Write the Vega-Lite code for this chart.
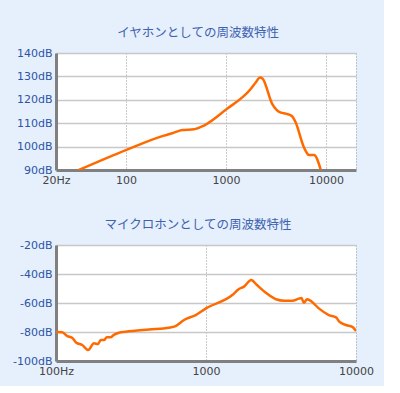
{
  "$schema": "https://vega.github.io/schema/vega-lite/v6.json",
  "background": "#e6effc",
  "padding": {"left": 12, "top": 26, "right": 10, "bottom": 10},
  "spacing": 33,
  "datasets": {
    "ear": [
      {"f": 33, "db": 89.8},
      {"f": 100, "db": 98.5},
      {"f": 240, "db": 104.7},
      {"f": 291, "db": 105.7},
      {"f": 367, "db": 107.1},
      {"f": 480, "db": 107.4},
      {"f": 604, "db": 109.0},
      {"f": 1000, "db": 115.8},
      {"f": 1770, "db": 124.6},
      {"f": 1986, "db": 127.4},
      {"f": 2193, "db": 129.5},
      {"f": 2320, "db": 129.1},
      {"f": 2912, "db": 118.2},
      {"f": 3550, "db": 114.5},
      {"f": 3983, "db": 114.1},
      {"f": 4565, "db": 113.1},
      {"f": 4988, "db": 110.3},
      {"f": 6040, "db": 99.6},
      {"f": 6777, "db": 96.4},
      {"f": 7602, "db": 96.4},
      {"f": 8870, "db": 90.2}
    ],
    "mic": [
      {"f": 100, "db": -80},
      {"f": 110, "db": -80.2},
      {"f": 119, "db": -82.8},
      {"f": 128, "db": -84},
      {"f": 136.6, "db": -87.4},
      {"f": 149.7, "db": -89},
      {"f": 164, "db": -92.4},
      {"f": 179, "db": -87.8},
      {"f": 190.5, "db": -88.3},
      {"f": 198.6, "db": -85.5},
      {"f": 209, "db": -85.5},
      {"f": 217.8, "db": -83.7},
      {"f": 231, "db": -83.7},
      {"f": 243, "db": -82},
      {"f": 263, "db": -80.5},
      {"f": 291, "db": -79.8},
      {"f": 417, "db": -78.2},
      {"f": 567, "db": -77},
      {"f": 627, "db": -75.9},
      {"f": 714, "db": -71.7},
      {"f": 854, "db": -68.3},
      {"f": 1000, "db": -63.7},
      {"f": 1498, "db": -54.5},
      {"f": 1650, "db": -50.5},
      {"f": 1793, "db": -48.7},
      {"f": 2003, "db": -44.1},
      {"f": 2185, "db": -47.6},
      {"f": 2504, "db": -52.9},
      {"f": 2925, "db": -57.4},
      {"f": 3320, "db": -58.4},
      {"f": 3770, "db": -58.4},
      {"f": 4160, "db": -57},
      {"f": 4330, "db": -56.6},
      {"f": 4490, "db": -59.8},
      {"f": 4720, "db": -57.4},
      {"f": 4970, "db": -58.4},
      {"f": 5650, "db": -63.7},
      {"f": 6590, "db": -68.3},
      {"f": 7360, "db": -69.9},
      {"f": 7740, "db": -72.9},
      {"f": 8570, "db": -75.2},
      {"f": 9460, "db": -76.4},
      {"f": 10000, "db": -79.3}
    ]
  },
  "vconcat": [
    {
      "title": {"text": "イヤホンとしての周波数特性", "dx": -8},
      "width": 300,
      "height": 117,
      "data": {"name": "ear"},
      "mark": {"type": "line", "color": "#ff6a00", "strokeWidth": 2.5, "interpolate": "monotone", "clip": true},
      "encoding": {
        "x": {
          "field": "f", "type": "quantitative",
          "scale": {"type": "log", "domain": [20, 20000], "nice": false},
          "axis": {"values": [20, 100, 1000, 10000, 20000], "format": "d",
                   "labelExpr": "datum.value == 20 ? '20Hz' : (datum.value == 20000 ? '' : datum.label)"}
        },
        "y": {
          "field": "db", "type": "quantitative",
          "scale": {"domain": [90, 140], "nice": false, "zero": false},
          "axis": {"values": [90, 100, 110, 120, 130, 140], "labelExpr": "datum.value + 'dB'"}
        }
      }
    },
    {
      "title": {"text": "マイクロホンとしての周波数特性", "dx": -8},
      "width": 300,
      "height": 116,
      "data": {"name": "mic"},
      "mark": {"type": "line", "color": "#ff6a00", "strokeWidth": 2.5, "interpolate": "monotone", "clip": true},
      "encoding": {
        "x": {
          "field": "f", "type": "quantitative",
          "scale": {"type": "log", "domain": [100, 10000], "nice": false},
          "axis": {"values": [100, 1000, 10000], "format": "d",
                   "labelExpr": "datum.value == 100 ? '100Hz' : datum.label"}
        },
        "y": {
          "field": "db", "type": "quantitative",
          "scale": {"domain": [-100, -20], "nice": false, "zero": false},
          "axis": {"values": [-100, -80, -60, -40, -20], "labelExpr": "datum.value + 'dB'"}
        }
      }
    }
  ],
  "config": {
    "view": {"stroke": null, "fill": "white"},
    "title": {"font": "Noto Sans CJK JP", "fontSize": 12.5, "fontWeight": "normal", "color": "#3d63b0", "offset": 8, "anchor": "middle"},
    "axis": {
      "title": null,
      "domainColor": "#808080",
      "domainWidth": 3,
      "ticks": false,
      "labelFont": "DejaVu Sans",
      "labelFontSize": 11,
      "labelPadding": 4
    },
    "axisX": {"labelColor": "#444444", "gridColor": "#999999", "gridDash": [1, 2], "gridWidth": 1, "labelFlush": false},
    "axisY": {"labelColor": "#2d55a5", "gridColor": "#c8c8c8", "gridWidth": 1.5}
  }
}
